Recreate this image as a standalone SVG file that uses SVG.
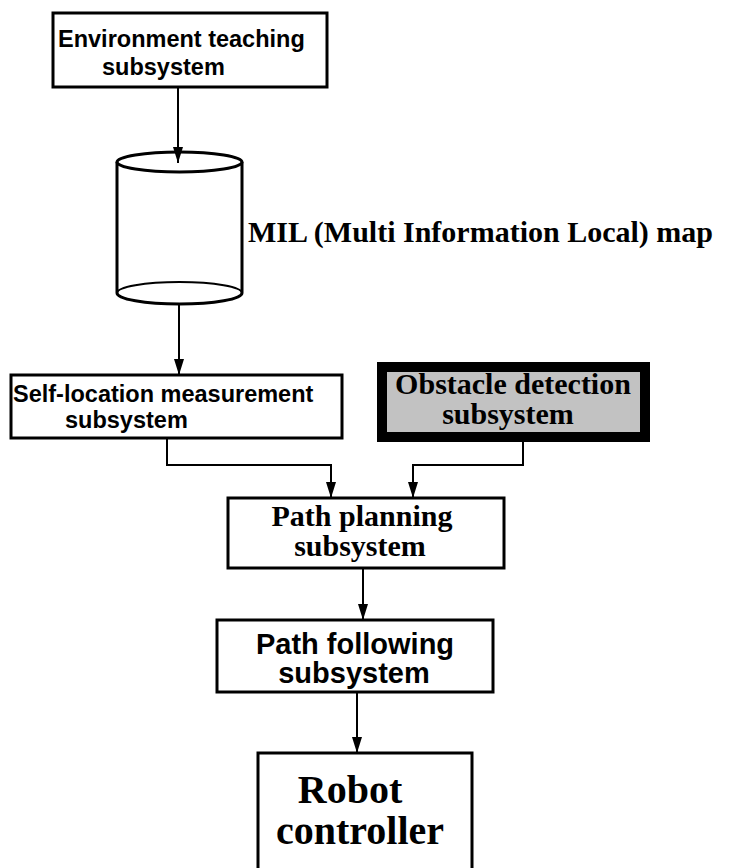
<svg xmlns="http://www.w3.org/2000/svg" width="729" height="868" viewBox="0 0 729 868">
<style>
.box{fill:#fff;stroke:#000;stroke-width:3}
.sans{font-family:"Liberation Sans",Arial,sans-serif;font-weight:bold;fill:#000}
.serif{font-family:"Liberation Serif","Times New Roman",serif;font-weight:bold;fill:#000}
.conn{fill:none;stroke:#000;stroke-width:2}
</style>
<defs>
<marker id="ah" markerUnits="userSpaceOnUse" viewBox="0 0 16 10" markerWidth="16" markerHeight="10" refX="16" refY="5" orient="auto">
<path d="M0,0 L16,5 L0,10 z" fill="#000"/>
</marker>
</defs>
<rect width="729" height="868" fill="#fff"/>
<g id="env">
<rect class="box" x="53" y="13" width="274" height="74"/>
<text class="sans" x="58" y="47" font-size="23.5">Environment teaching</text>
<text class="sans" x="102" y="75" font-size="23.5">subsystem</text>
</g>
<g id="mil">
<path d="M117,162 V293 M242,162 V293" stroke="#000" stroke-width="3" fill="none"/>
<path d="M117,293 A62.5,11 0 0 0 242,293" fill="none" stroke="#000" stroke-width="3"/>
<path d="M117,293 A62.5,11 0 0 1 242,293" fill="none" stroke="#000" stroke-width="2"/>
<ellipse cx="179.5" cy="162" rx="62.5" ry="10" fill="#fff" stroke="#000" stroke-width="3"/>
<text class="serif" x="248" y="242" font-size="30">MIL (Multi Information Local) map</text>
</g>
<g id="self">
<rect class="box" x="11" y="375" width="331" height="63"/>
<text class="sans" x="13" y="402" font-size="23.5">Self-location measurement</text>
<text class="sans" x="65" y="428" font-size="23.5">subsystem</text>
</g>
<g id="obstacle">
<rect x="382" y="367" width="263" height="70" fill="#c2c2c2" stroke="#000" stroke-width="10"/>
<text class="serif" x="513" y="394" font-size="30" text-anchor="middle">Obstacle detection</text>
<text class="serif" x="508" y="424" font-size="30" text-anchor="middle">subsystem</text>
</g>
<g id="planning">
<rect class="box" x="228" y="498" width="276" height="70"/>
<text class="serif" x="362" y="526" font-size="30" text-anchor="middle">Path planning</text>
<text class="serif" x="360" y="556" font-size="30" text-anchor="middle">subsystem</text>
</g>
<g id="following">
<rect class="box" x="217" y="620" width="276" height="72"/>
<text class="sans" x="355" y="654" font-size="29" text-anchor="middle">Path following</text>
<text class="sans" x="354" y="683" font-size="29" text-anchor="middle">subsystem</text>
</g>
<g id="robot">
<rect class="box" x="258" y="753" width="214" height="130"/>
<text class="serif" x="350" y="803" font-size="40" text-anchor="middle">Robot</text>
<text class="serif" x="360" y="844" font-size="40" text-anchor="middle">controller</text>
</g>
<g id="connectors">
<path class="conn" d="M178,87 V163" marker-end="url(#ah)"/>
<path class="conn" d="M179,305 V375" marker-end="url(#ah)"/>
<path class="conn" d="M167,438 V465 H331 V498" marker-end="url(#ah)"/>
<path class="conn" d="M523,442 V465 H413 V498" marker-end="url(#ah)"/>
<path class="conn" d="M363,568 V620" marker-end="url(#ah)"/>
<path class="conn" d="M357,692 V753" marker-end="url(#ah)"/>
</g>
</svg>
